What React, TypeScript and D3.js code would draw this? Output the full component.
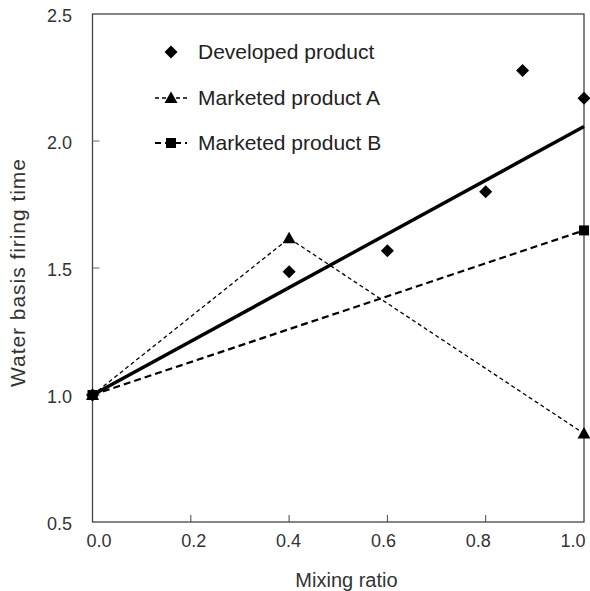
import React from "react";
import * as d3 from "d3";

const developedX = [0.0, 0.4, 0.6, 0.8, 0.875, 1.0];
const developedY = [1.0, 1.485, 1.568, 1.8, 2.278, 2.168];
const trendX = [0.0, 1.0];
const trendY = [1.0, 2.057];
const marketedAX = [0.0, 0.4, 1.0];
const marketedAY = [1.0, 1.617, 0.848];
const marketedBX = [0.0, 1.0];
const marketedBY = [1.0, 1.648];
const xTicks = [0.0, 0.2, 0.4, 0.6, 0.8, 1.0];
const yTicks = [0.5, 1.0, 1.5, 2.0, 2.5];
const legendLabels = ["Developed product", "Marketed product A", "Marketed product B"];

const W = 590, H = 591;
const L = 92.5, R = 584, T = 14, B = 522;
const FONT = "'Liberation Sans', Arial, sans-serif";

export default function App() {
  const x = d3.scaleLinear().domain([0, 1]).range([L, R]);
  const xLab = d3.scaleLinear().domain([0, 1]).range([99, 573]);
  const y = d3.scaleLinear().domain([0.5, 2.5]).range([B, T]);
  const line = d3.line<[number, number]>().x(d => x(d[0])).y(d => y(d[1]));
  const zip = (a: number[], b: number[]) => a.map((v, i) => [v, b[i]] as [number, number]);

  const diamond = (cx: number, cy: number, k: string) => (
    <path key={k} d={`M${cx},${cy - 6.5}L${cx + 6.5},${cy}L${cx},${cy + 6.5}L${cx - 6.5},${cy}Z`} fill="#000" />
  );
  const triangle = (cx: number, cy: number, k: string) => (
    <path key={k} d={`M${cx},${cy - 6.5}L${cx + 6.5},${cy + 5}L${cx - 6.5},${cy + 5}Z`} fill="#000" />
  );
  const square = (cx: number, cy: number, k: string) => (
    <rect key={k} x={cx - 5} y={cy - 5} width={10} height={10} fill="#000" />
  );

  const legX = 171;
  const legY = [52, 98, 143];

  return (
    <svg width={W} height={H} style={{ position: "absolute", left: 0, top: 0, background: "#fff" }}>
      <rect x={L} y={T} width={R - L} height={B - T} fill="none" stroke="#444" strokeWidth={1.3} />
      {yTicks.slice(1, -1).map(t => (
        <line key={"yt" + t} x1={L} x2={L + 7} y1={y(t)} y2={y(t)} stroke="#666" strokeWidth={1} />
      ))}
      {xTicks.slice(1, -1).map(t => (
        <line key={"xt" + t} x1={x(t)} x2={x(t)} y1={B} y2={B - 7} stroke="#444" strokeWidth={1} />
      ))}
      {yTicks.map(t => (
        <text key={"yl" + t} x={72} y={y(t) + 2} dy="0.35em" textAnchor="end" fontFamily={FONT} fontSize={18} fill="#333">
          {t.toFixed(1)}
        </text>
      ))}
      {xTicks.map(t => (
        <text key={"xl" + t} x={xLab(t)} y={541} dy="0.35em" textAnchor="middle" fontFamily={FONT} fontSize={18} fill="#333">
          {t.toFixed(1)}
        </text>
      ))}
      <text x={346.5} y={580} dy="0.35em" textAnchor="middle" fontFamily={FONT} fontSize={20} fill="#333">Mixing ratio</text>
      <text transform={`translate(18,273) rotate(-90)`} dy="0.35em" textAnchor="middle" fontFamily={FONT} fontSize={21}
        fill="#333" textLength={228} lengthAdjust="spacing">
        Water basis firing time
      </text>

      <path d={line(zip(marketedBX, marketedBY)) || ""} fill="none" stroke="#000" strokeWidth={2.2} strokeDasharray="7,4" />
      <path d={line(zip(marketedAX, marketedAY)) || ""} fill="none" stroke="#000" strokeWidth={1.3} strokeDasharray="4,3" />
      <path d={line(zip(trendX, trendY)) || ""} fill="none" stroke="#000" strokeWidth={3.4} />

      {marketedBX.map((v, i) => square(x(v), y(marketedBY[i]), "b" + i))}
      {marketedAX.map((v, i) => triangle(x(v), y(marketedAY[i]), "a" + i))}
      {developedX.map((v, i) => diamond(x(v), y(developedY[i]), "d" + i))}

      {diamond(legX, legY[0], "ld")}
      <line x1={155} x2={189} y1={legY[1]} y2={legY[1]} stroke="#000" strokeWidth={1.3} strokeDasharray="4,3" />
      {triangle(legX, legY[1], "la")}
      <line x1={155} x2={187} y1={legY[2]} y2={legY[2]} stroke="#000" strokeWidth={2.2} strokeDasharray="6,4" />
      {square(legX, legY[2], "lb")}
      {legendLabels.map((s, i) => (
        <text key={"lg" + i} x={198} y={legY[i]} dy="0.35em" fontFamily={FONT} fontSize={21} fill="#222">{s}</text>
      ))}
    </svg>
  );
}
